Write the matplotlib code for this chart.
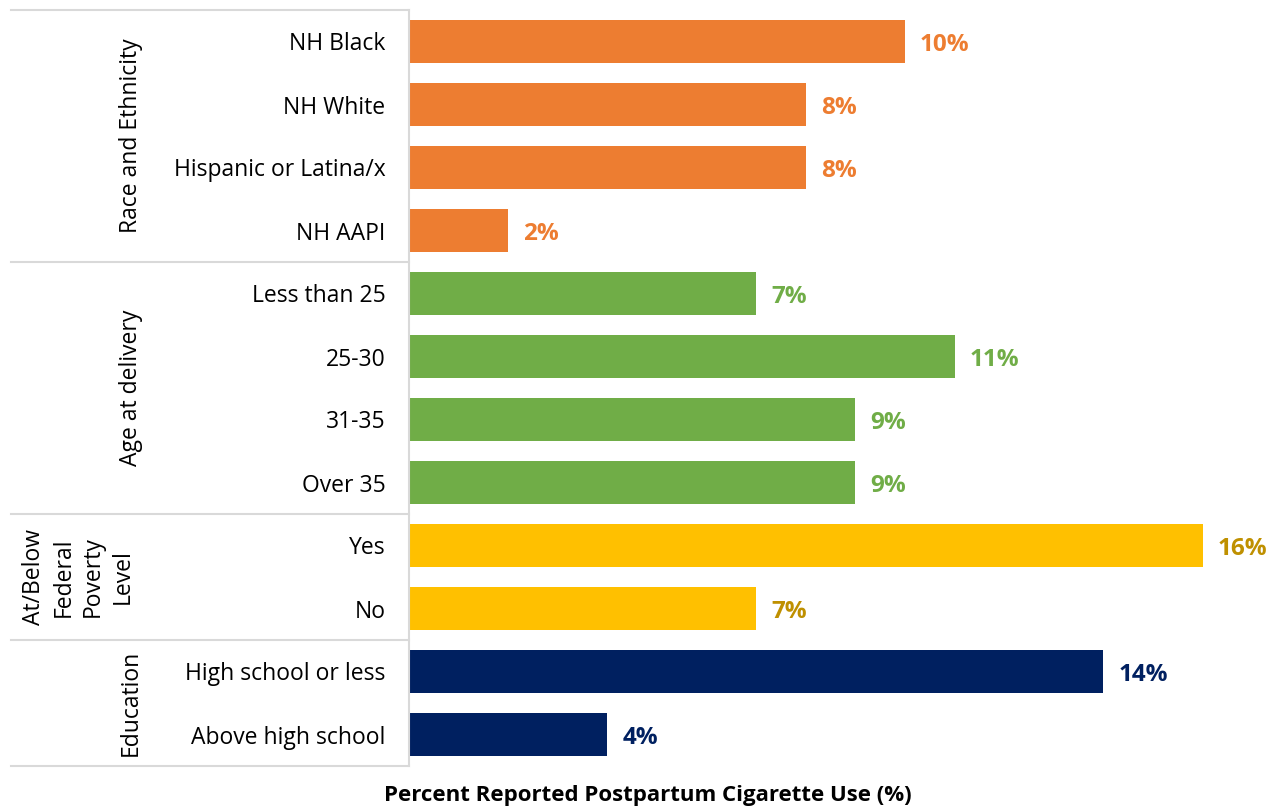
import numpy as np
import matplotlib.pyplot as plt
from matplotlib.transforms import blended_transform_factory

plt.rcParams['font.family'] = ['Open Sans', 'DejaVu Sans']

# datos
categorias = ["NH Black", "NH White", "Hispanic or Latina/x", "NH AAPI",
              "Less than 25", "25-30", "31-35", "Over 35",
              "Yes", "No",
              "High school or less", "Above high school"]
valores = [10, 8, 8, 2, 7, 11, 9, 9, 16, 7, 14, 4]
grupos = ["Race and Ethnicity", "Age at delivery",
          "At/Below\nFederal\nPoverty\nLevel", "Education"]
tam_grupos = [4, 4, 2, 2]

col_barra = ["#ED7D31", "#70AD47", "#FFC000", "#002060"]
col_texto = ["#ED7D31", "#70AD47", "#BF9000", "#002060"]

fig = plt.figure(figsize=(12.78, 8.06), dpi=100)
ax = fig.add_axes([409/1278, 40/806, 866/1278, 756/806])

colores_b = []
colores_t = []
for g, n in enumerate(tam_grupos):
    colores_b += [col_barra[g]] * n
    colores_t += [col_texto[g]] * n

y = np.arange(len(categorias))
ax.barh(y, valores, height=0.67, color=colores_b)
for i in range(len(valores)):
    ax.text(valores[i] + 0.3, y[i] + 0.05, str(valores[i]) + "%", va="center", ha="left",
            fontsize=17.5, fontweight="bold", color=colores_t[i])

ax.set_ylim(len(categorias) - 0.5, -0.5)
ax.set_xlim(0, 866/49.6)
ax.set_yticks(y)
ax.set_yticklabels(categorias, fontsize=16.5)
ax.tick_params(axis="y", length=0, pad=17)
ax.set_xticks([])
for s in ["top", "right", "bottom"]:
    ax.spines[s].set_visible(False)
ax.spines["left"].set_color("#D9D9D9")
ax.spines["left"].set_linewidth(1.5)

tr = blended_transform_factory(ax.transAxes, ax.transData)
limites = [-0.5]
for n in tam_grupos:
    limites.append(limites[-1] + n)
for b in limites:
    ax.plot([-398/866, 0], [b, b], color="#D9D9D9", lw=1.5, transform=tr, clip_on=False)

x_grupo = [-0.3215, -0.3215, -0.382, -0.3215]
for g in range(len(grupos)):
    centro = (limites[g] + limites[g+1]) / 2
    ax.text(x_grupo[g], centro, grupos[g], rotation=90, ha="center", va="center",
            multialignment="center", fontsize=16.5, transform=tr, linespacing=1.3)

fig.text(648/1278, 11/806, "Percent Reported Postpartum Cigarette Use (%)",
         ha="center", va="center", fontsize=16, fontweight="bold")

plt.savefig("out.png", dpi=100)
